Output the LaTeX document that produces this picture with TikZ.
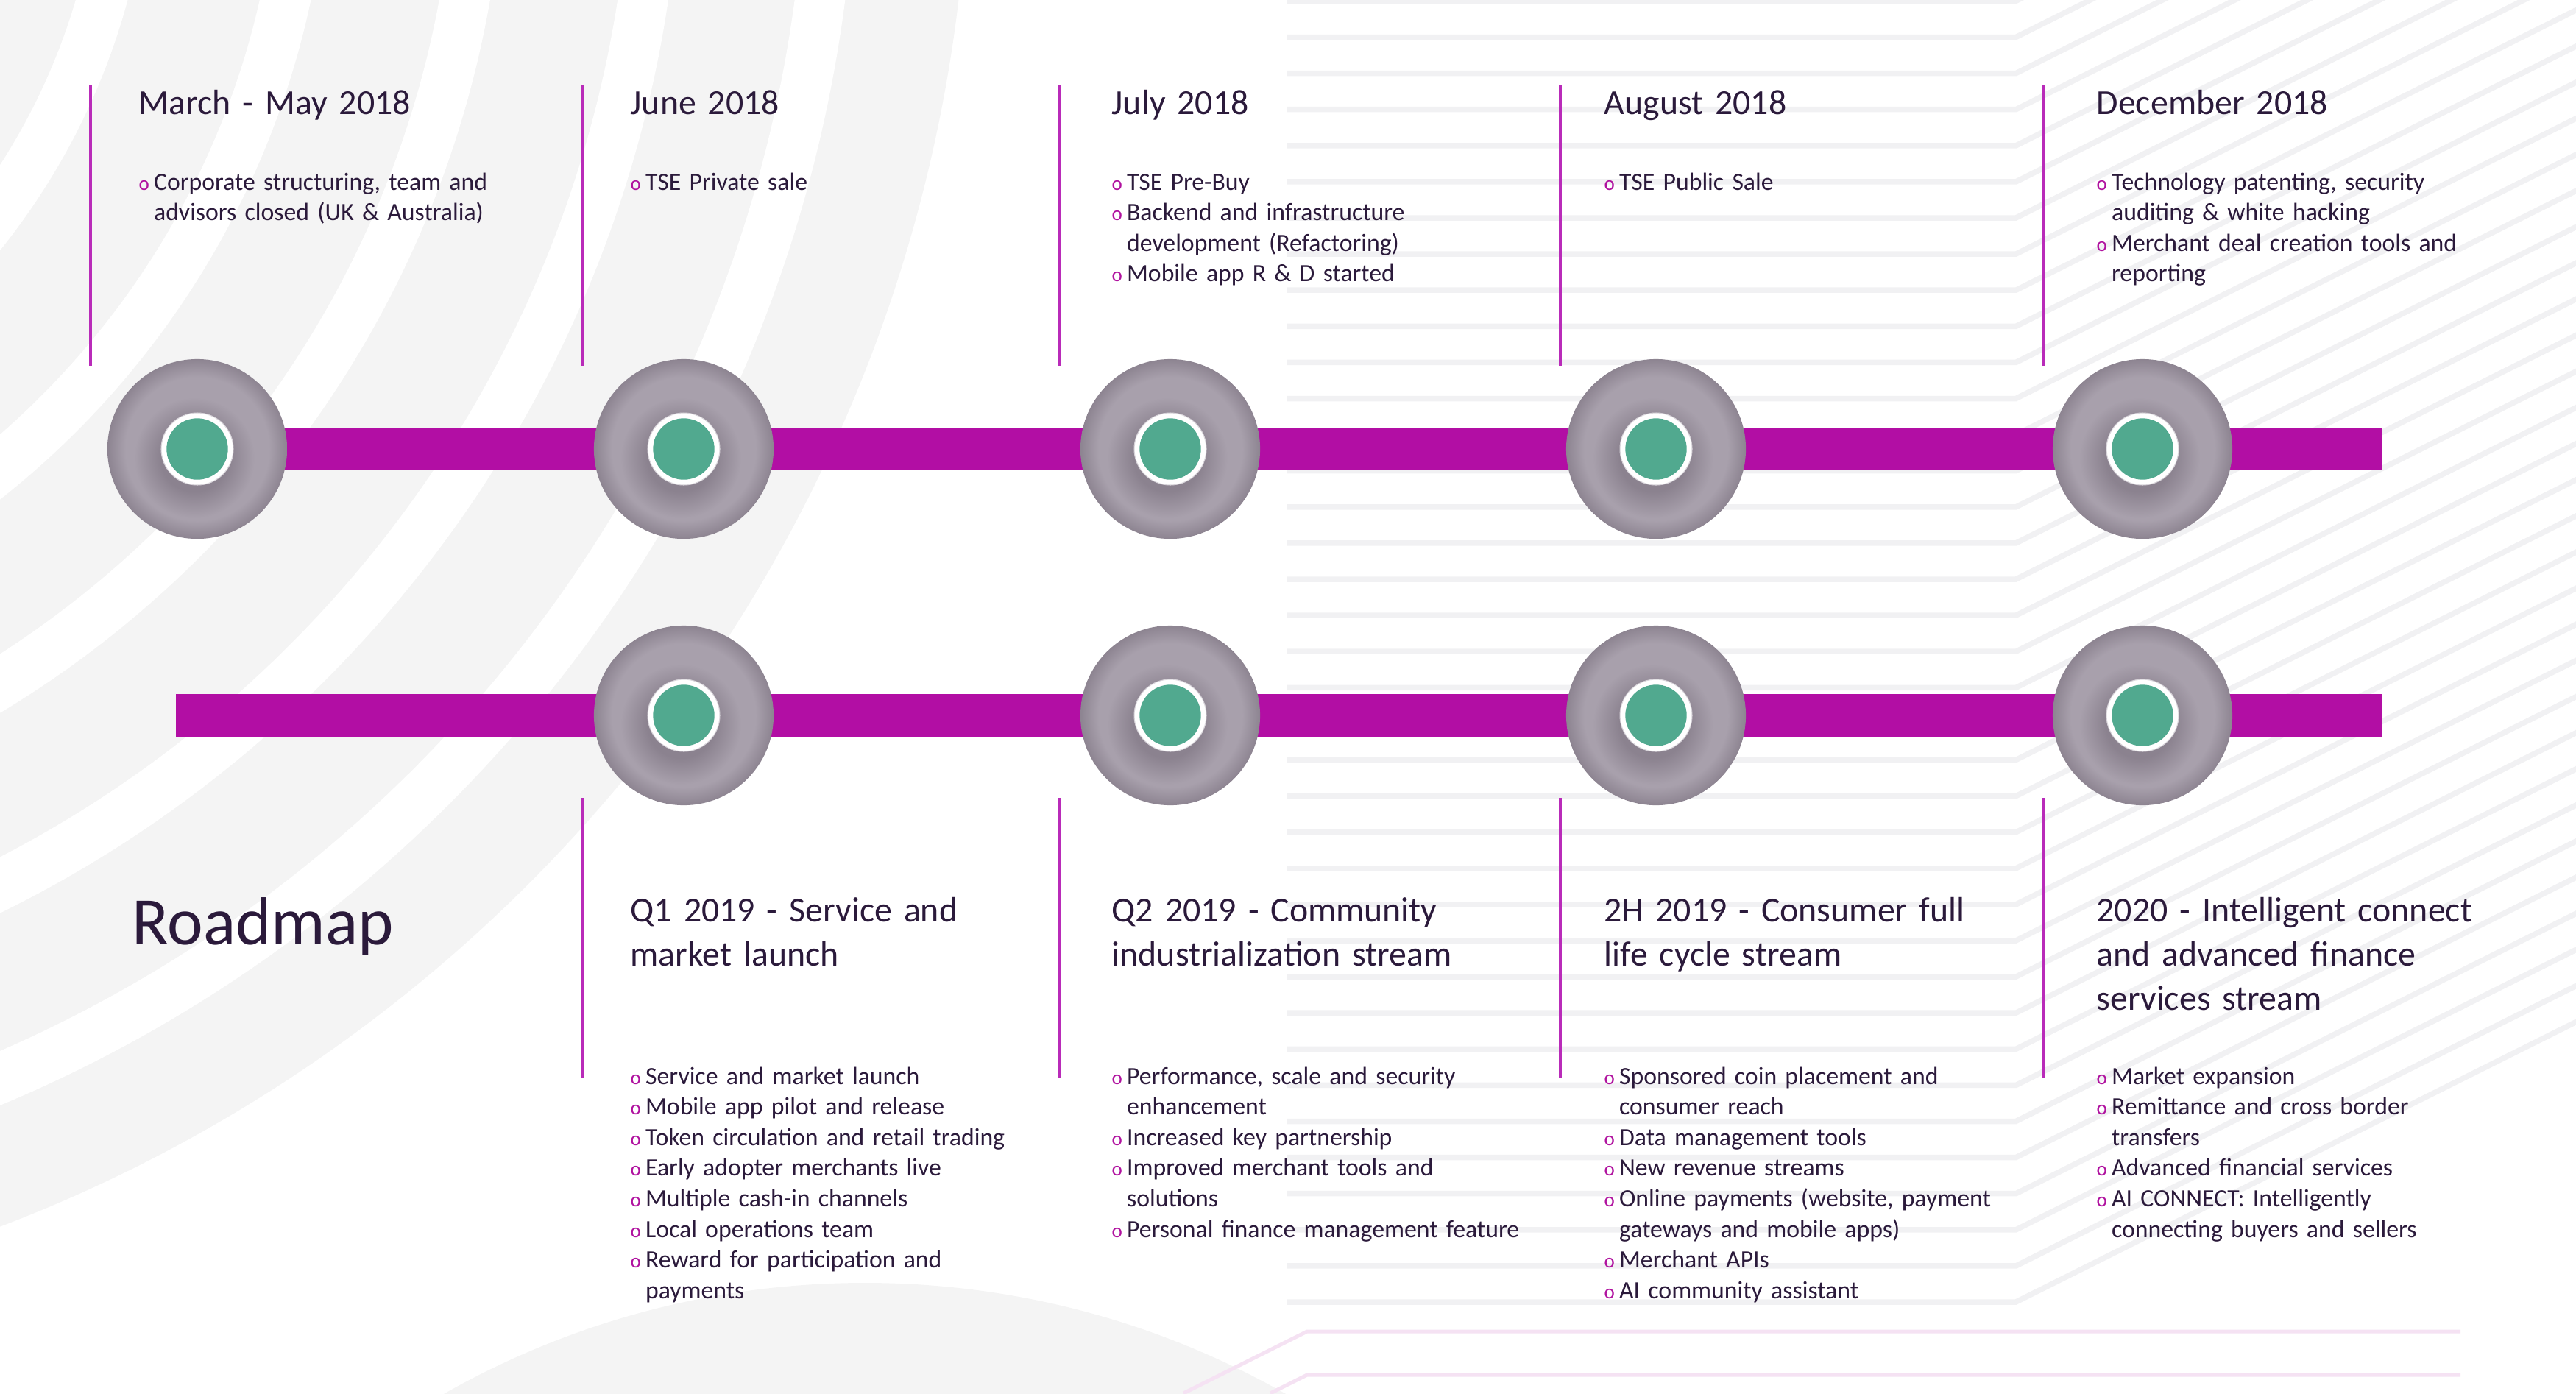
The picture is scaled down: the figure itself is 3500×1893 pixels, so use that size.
\documentclass[tikz,border=0pt]{standalone}
\usepackage{fontspec}
\setmainfont{Carlito}[WordSpace=0.72]
\usetikzlibrary{calc}

\definecolor{ink}{HTML}{2B1A3B}
\definecolor{barmag}{HTML}{B20EA4}
\definecolor{rulemag}{HTML}{B92BB9}
\definecolor{bulletmag}{HTML}{B0129F}
\definecolor{discmid}{HTML}{A8A0AC}
\definecolor{discrim}{HTML}{8D8491}
\definecolor{discshadow}{HTML}{8B828F}
\definecolor{ringedge}{HTML}{D8D4DA}
\definecolor{dotgreen}{HTML}{51A98F}
\definecolor{bggray}{HTML}{F4F4F4}
\definecolor{stripegray}{HTML}{F1F1F3}
\definecolor{pinkstripe}{HTML}{F5E2F3}

\pgfdeclareradialshading{discshade}{\pgfpoint{0bp}{0bp}}{color(0bp)=(discmid); color(20bp)=(discmid); color(25bp)=(discrim); color(50bp)=(discrim)}
\pgfdeclareradialshading{ringshadow}{\pgfpoint{0bp}{0bp}}{color(0bp)=(discshadow); color(14bp)=(discshadow); color(25bp)=(discmid); color(50bp)=(discmid)}

\pgfdeclarelayer{back}
\pgfsetlayers{back,main}

\newcommand\bu{\makebox[5.8pt][l]{\textcolor{bulletmag}{\fontsize{7.7pt}{8pt}\selectfont o}}}
\newcommand\ind{\hspace*{5.8pt}}

\begin{document}
\begin{tikzpicture}[x=0.01cm, y=0.01cm,
  ttl/.style={anchor=base west, inner sep=0pt, text=ink, text width=9cm, align=left,
              font=\fontsize{13.6pt}{17.07pt}\selectfont},
  itm/.style={anchor=base west, inner sep=0pt, text=ink, text width=9cm, align=left,
              font=\fontsize{9.6pt}{11.84pt}\selectfont},
  milestone/.style={circle, inner sep=0pt, minimum size=2.44cm, shade, shading=discshade},
  barline/.style={draw=barmag, line width=0.58cm},
  guide/.style={draw=rulemag, line width=0.045cm},
  stripeline/.style={draw=stripegray, line width=0.075cm},
  pinkline/.style={draw=pinkstripe, line width=0.05cm},
  whiteband/.style={draw=white, line width=0.68cm}
]
\useasboundingbox (0,0) rectangle (3500,-1893);

% milestones: shaded disc, soft shadow, white ring and green dot
\foreach \n/\x/\y in {m1/268/-610, m2/929/-610, m3/1590/-610, m4/2250/-610, m5/2911/-610,
                      n2/929/-972, n3/1590/-972, n4/2250/-972, n5/2911/-972}{
  \node[milestone] (\n) at (\x,\y) {};
  \shade[shading=ringshadow] ($(\n.center)+(-4,-12)$) circle[radius=82];
  \draw[draw=ringedge, fill=white, line width=0.3pt] (\n.center) circle[radius=49];
  \fill[dotgreen] (\n.center) circle[radius=41.7];
}

% end points of the two timeline bars
\coordinate (tEnd) at (3237,-610);
\coordinate (bStart) at (239,-972);
\coordinate (bEnd) at (3237,-972);

\begin{pgfonlayer}{back}
  \begin{scope}
    \clip (0,0) rectangle (3500,-1893);
    % concentric arcs on the left
    \coordinate (arcc) at (-728,245);
    \fill[bggray] (arcc) circle[radius=2045];
    \foreach \r in {900,1142,1381,1620,1858}
      \draw[whiteband] (arcc) circle[radius=\r];
    % dome at the bottom
    \coordinate (domec) at (1175,-2901);
    \fill[bggray] (domec) circle[radius=1158];
    % horizontal stripes bending up to the right
    \foreach \k in {-8,...,36}{
      \pgfmathsetmacro\yy{-1.4-49.1*\k}
      \draw[stripeline] (1749,\yy) -- (2739,\yy) -- ++(800,400);
    }
    % pink stripes at the bottom
    \draw[pinkline] (1608,-1893) -- (1776,-1809) -- (3343,-1809);
    \draw[pinkline] (1726,-1893) -- (1776,-1868) -- (3343,-1868);
  \end{scope}
  % timeline bars
  \draw[barline] (m1.center) -- (tEnd);
  \draw[barline] (bStart) -- (bEnd);
\end{pgfonlayer}

% vertical guides
\foreach \i/\x in {1/123, 2/792, 3/1440, 4/2120, 5/2777}{
  \coordinate (ga\i) at (\x,-116);
  \coordinate (gb\i) at (\x,-497);
  \draw[guide] (ga\i) -- (gb\i);
}
\foreach \i/\x in {2/792, 3/1440, 4/2120, 5/2777}{
  \coordinate (gc\i) at (\x,-1084);
  \coordinate (gd\i) at (\x,-1465);
  \draw[guide] (gc\i) -- (gd\i);
}

% top row
\node[ttl] (h1) at (188,-155) {March - May 2018};
\node[ttl] (h2) at (856,-155) {June 2018};
\node[ttl] (h3) at (1510,-155) {July 2018};
\node[ttl] (h4) at (2179,-155) {August 2018};
\node[ttl] (h5) at (2848,-155) {December 2018};

\node[itm] (l1) at (188,-258) {\bu Corporate structuring, team and\\\ind advisors closed (UK \& Australia)};
\node[itm] (l2) at (856,-258) {\bu TSE Private sale};
\node[itm] (l3) at (1510,-258) {\bu TSE Pre-Buy\\\bu Backend and infrastructure\\\ind development (Refactoring)\\\bu Mobile app R \& D started};
\node[itm] (l4) at (2179,-258) {\bu TSE Public Sale};
\node[itm] (l5) at (2848,-258) {\bu Technology patenting, security\\\ind auditing \& white hacking\\\bu Merchant deal creation tools and\\\ind reporting};

% bottom row
\node[anchor=base west, inner sep=0pt, text=ink, font=\fontsize{26.2pt}{30pt}\selectfont] (road) at (179,-1283) {Roadmap};

\node[ttl] (k2) at (856,-1252) {Q1 2019 - Service and\\market launch};
\node[ttl] (k3) at (1510,-1252) {Q2 2019 - Community\\industrialization stream};
\node[ttl] (k4) at (2179,-1252) {2H 2019 - Consumer full\\life cycle stream};
\node[ttl] (k5) at (2848,-1252) {2020 - Intelligent connect\\and advanced finance\\services stream};

\node[itm] (p2) at (856,-1473) {\bu Service and market launch\\\bu Mobile app pilot and release\\\bu Token circulation and retail trading\\\bu Early adopter merchants live\\\bu Multiple cash-in channels\\\bu Local operations team\\\bu Reward for participation and\\\ind payments};
\node[itm] (p3) at (1510,-1473) {\bu Performance, scale and security\\\ind enhancement\\\bu Increased key partnership\\\bu Improved merchant tools and\\\ind solutions\\\bu Personal finance management feature};
\node[itm] (p4) at (2179,-1473) {\bu Sponsored coin placement and\\\ind consumer reach\\\bu Data management tools\\\bu New revenue streams\\\bu Online payments (website, payment\\\ind gateways and mobile apps)\\\bu Merchant APIs\\\bu AI community assistant};
\node[itm] (p5) at (2848,-1473) {\bu Market expansion\\\bu Remittance and cross border\\\ind transfers\\\bu Advanced financial services\\\bu AI CONNECT: Intelligently\\\ind connecting buyers and sellers};
\end{tikzpicture}
\end{document}
